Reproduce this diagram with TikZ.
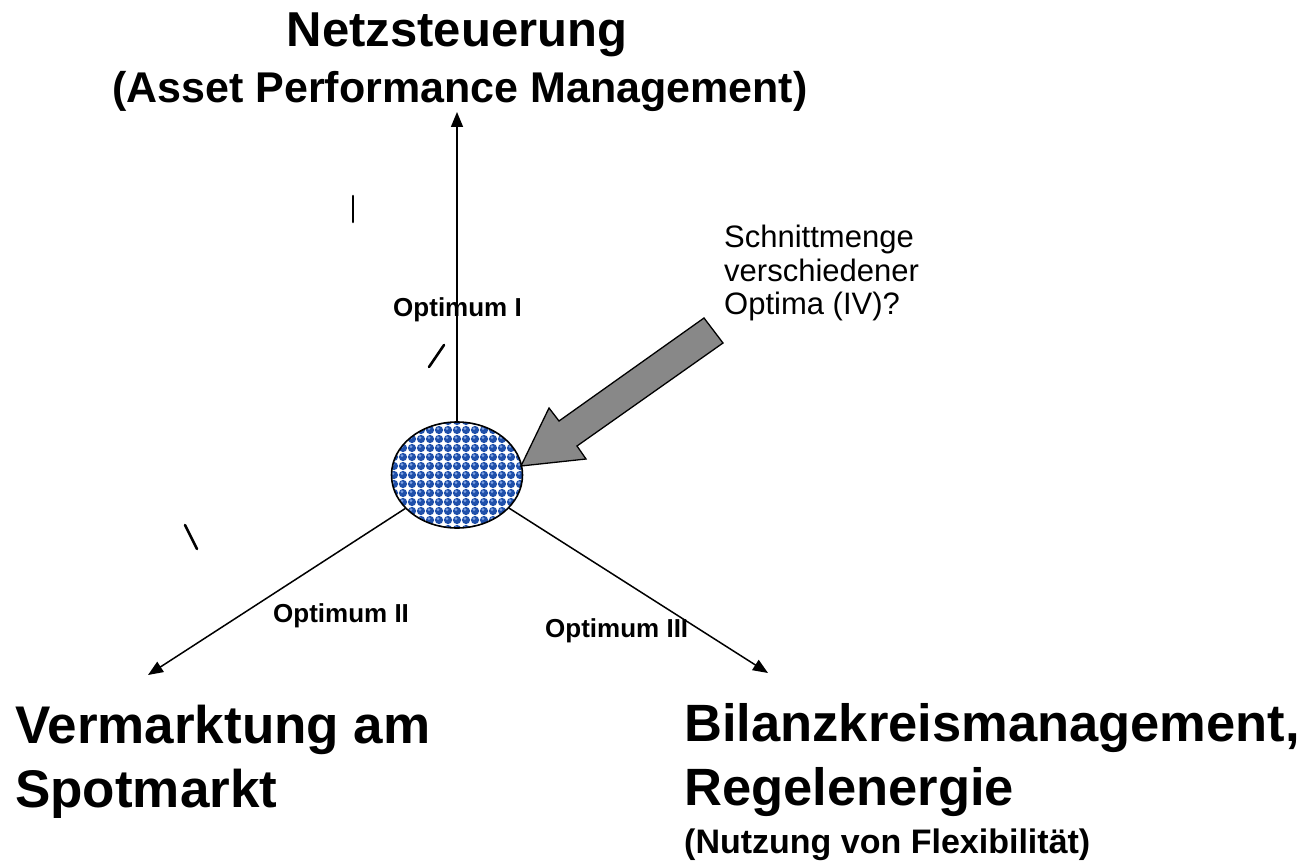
\documentclass[tikz,border=0pt]{standalone}
\usepackage{fontspec}
\setmainfont{Liberation Sans}
\usetikzlibrary{arrows.meta,shapes.geometric}
\definecolor{ballblue}{RGB}{32,80,170}
\definecolor{balllight}{RGB}{125,160,225}
\definecolor{blockgray}{RGB}{136,136,136}
\tikzset{
  axisline/.style={line width=1.5pt,-{Triangle[length=15pt,width=12pt]}},
  mark stroke/.style={line width=2.6pt,line cap=round},
  bigbold/.style={font=\fontsize{53}{58}\selectfont\bfseries,inner sep=0pt,anchor=base west},
  optlabel/.style={font=\fontsize{26}{29}\selectfont\bfseries,inner sep=0pt},
}
\begin{document}
\begin{tikzpicture}[x=1pt,y=-1pt]
\useasboundingbox[fill=white] (0,0) rectangle (1314,866);

% central ellipse with dotted pattern
\node[ellipse,draw,line width=1.6pt,minimum width=131pt,minimum height=106pt,inner sep=0pt,
  path picture={
    \fill[white] (-80,-70) rectangle (80,70);
    \foreach \i in {-8,...,8}{
      \foreach \j in {-7,...,7}{
        \fill[ballblue] (9*\i,9*\j) circle (4.1);
        \fill[balllight] (9*\i-1,9*\j-1.3) circle (1.5);
      }
    }
  }] (c) at (457,475) {};

% axes
\coordinate (top) at (457,112);
\coordinate (bl) at (148,675);
\coordinate (br) at (768,673);
\draw[axisline] (c.north) -- (top);
\draw[axisline] (c) -- (bl);
\draw[axisline] (c) -- (br);

% block arrow
\draw[fill=blockgray,line width=1.3pt,line join=miter]
  (704,318) -- (559,421) -- (549,408) -- (521,466) -- (586,459) -- (577,446) -- (723,343) -- cycle;

% small stroke marks
\draw[mark stroke] (353,196) -- (353,222);
\draw[mark stroke] (444,345) -- (429,367);
\draw[mark stroke] (185,525) -- (197,549);

% titles
\node[font=\fontsize{49}{54}\selectfont\bfseries,inner sep=0pt,anchor=base] (t1) at (457,47) {Netzsteuerung};
\node[font=\fontsize{43}{47}\selectfont\bfseries,inner sep=0pt,anchor=base] (t2) at (460,103) {(Asset Performance Management)};

\node[bigbold] (v1) at (15,743) {Vermarktung am};
\node[bigbold] (v2) at (15,807) {Spotmarkt};

\node[bigbold,font=\fontsize{52.5}{58}\selectfont\bfseries] (b1) at (684,741) {Bilanzkreismanagement,};
\node[bigbold,font=\fontsize{52.5}{58}\selectfont\bfseries] (b2) at (684,805) {Regelenergie};
\node[font=\fontsize{34}{38}\selectfont\bfseries,inner sep=0pt,anchor=base west] (b3) at (684,853) {(Nutzung von Flexibilität)};

% question text
\node[font=\fontsize{31}{33.5}\selectfont,inner sep=0pt,anchor=base west,align=left] (q) at (724,315)
  {Schnittmenge\\verschiedener\\Optima (IV)?};

% optimum labels
\node[optlabel,anchor=base] (o1) at (457.5,317) {Optimum I};
\node[optlabel,anchor=base west] (o2) at (273,622) {Optimum II};
\node[optlabel,anchor=base west] (o3) at (545,637) {Optimum III};
\end{tikzpicture}
\end{document}
